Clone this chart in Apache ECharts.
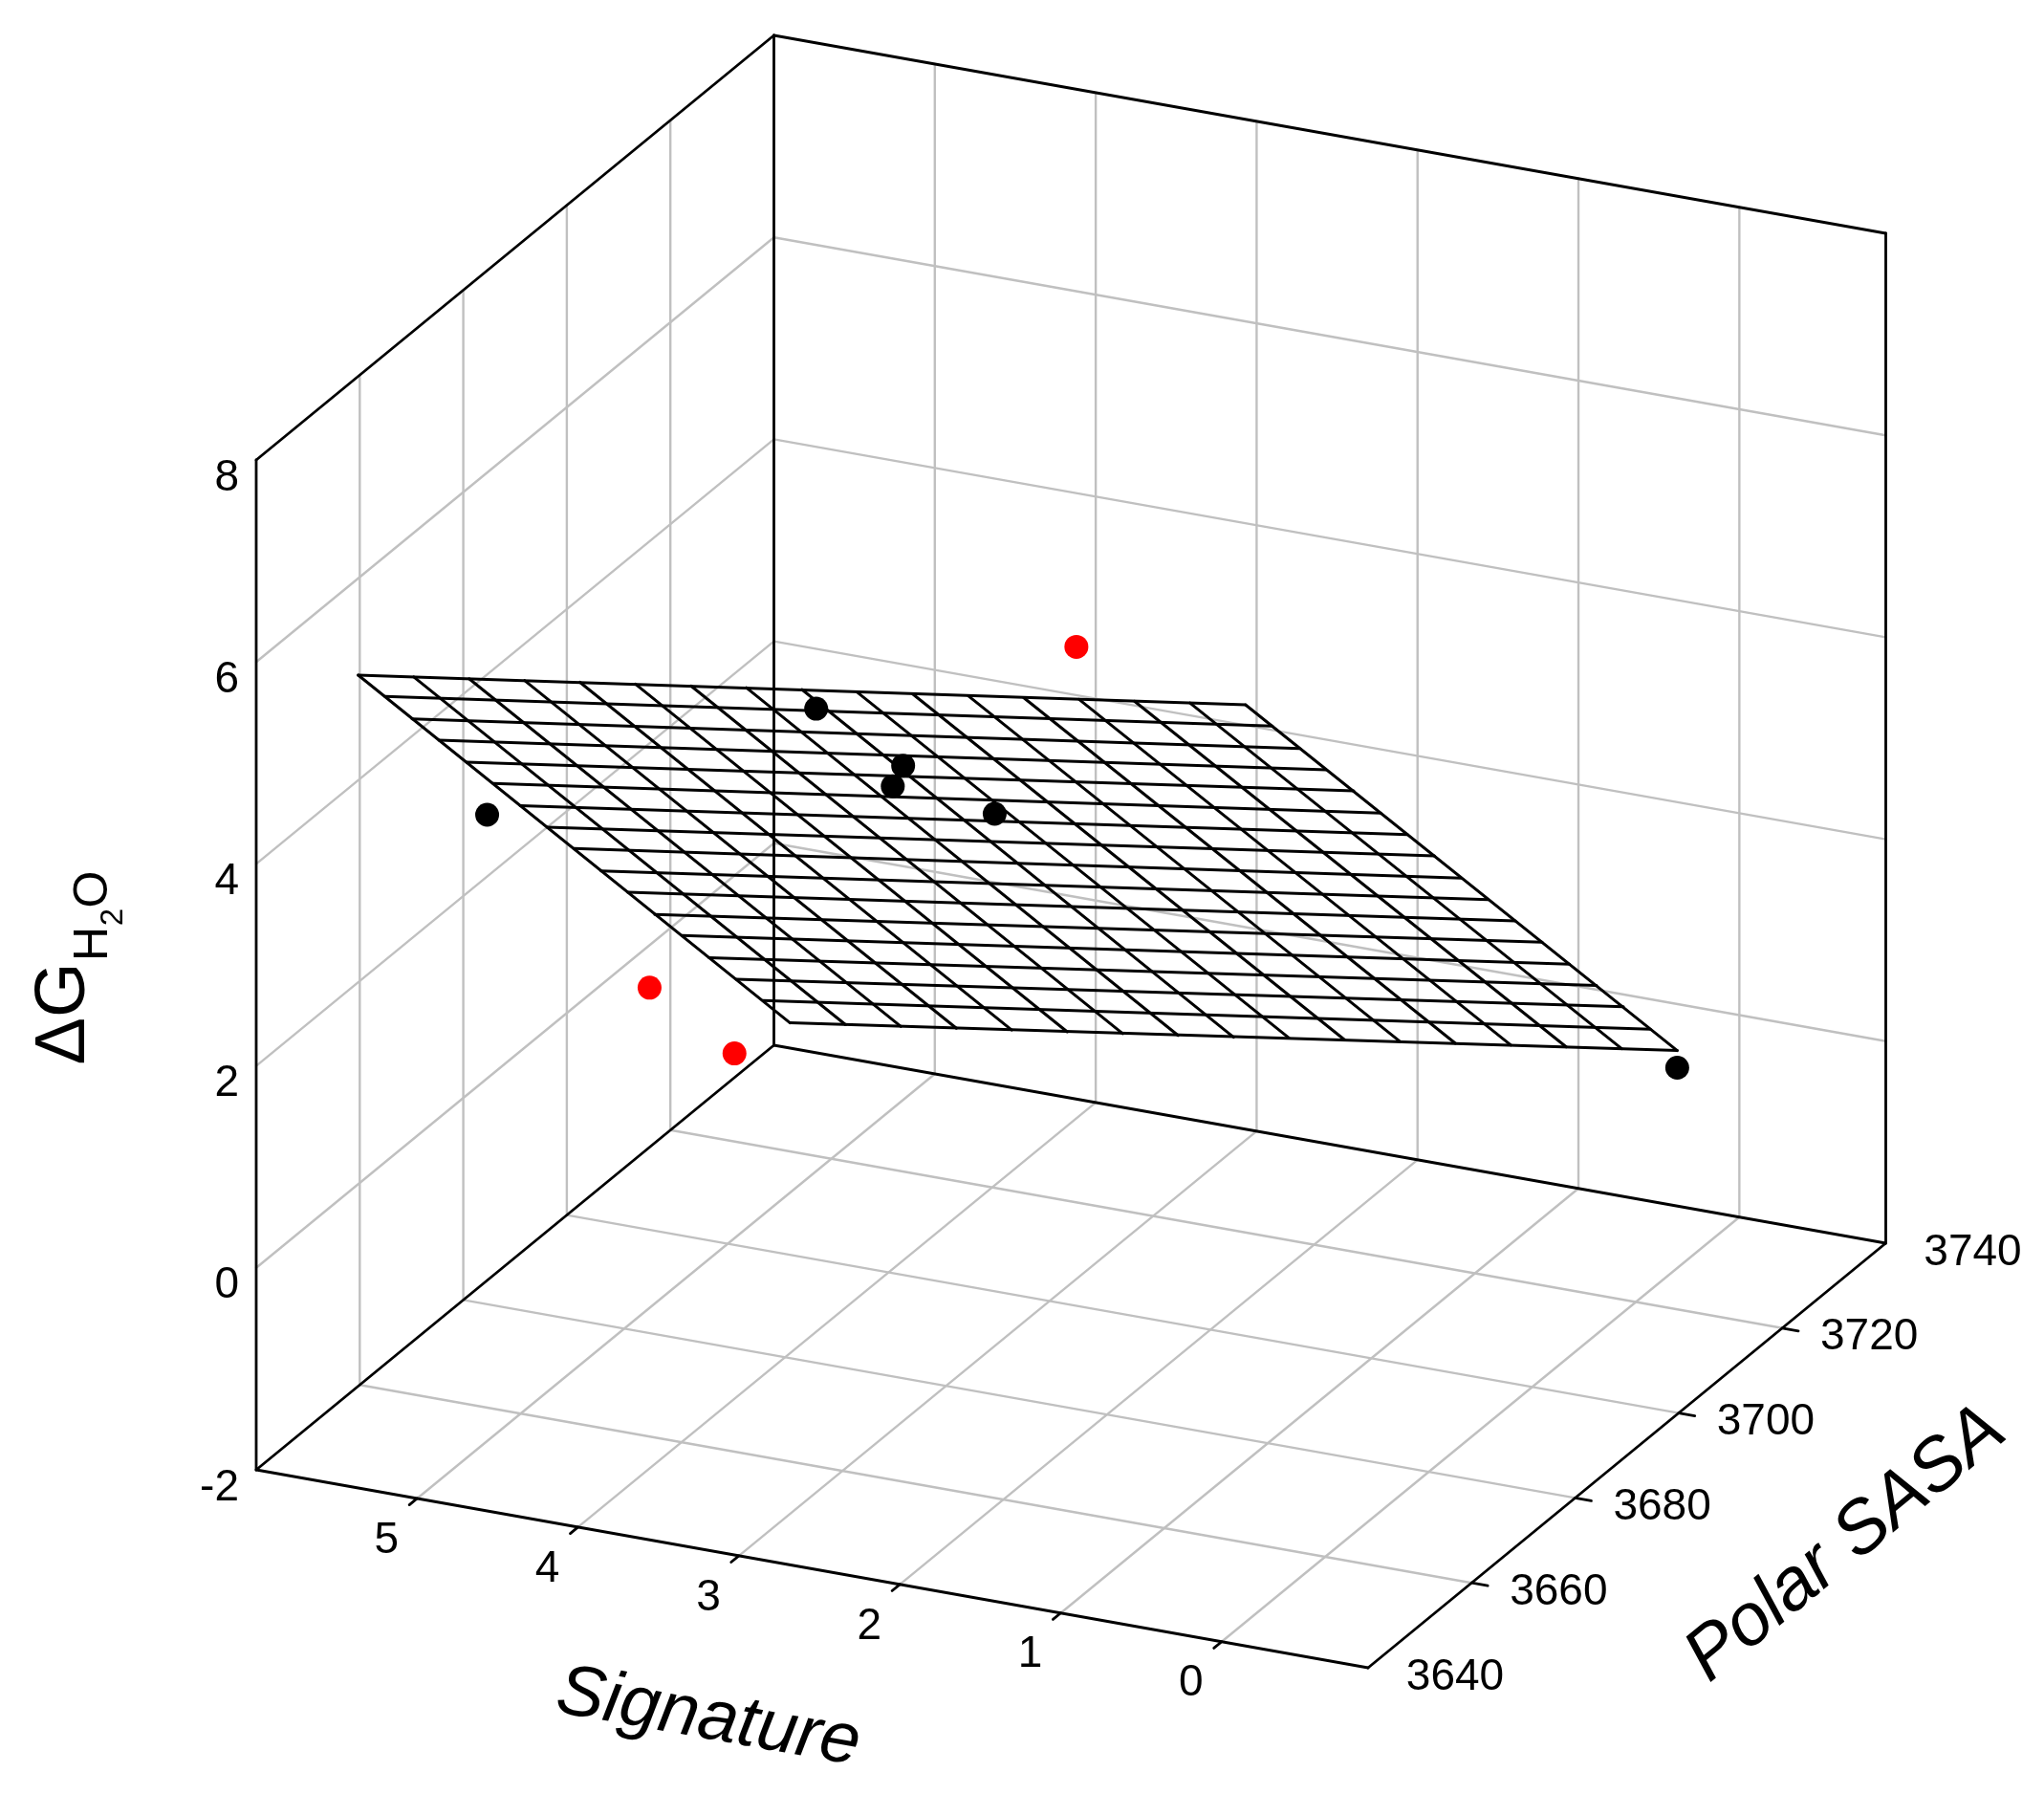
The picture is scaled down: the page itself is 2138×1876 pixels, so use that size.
<!DOCTYPE html>
<html>
<head>
<meta charset="utf-8">
<style>html,body{margin:0;padding:0;background:#fff}#c{width:2138px;height:1876px}</style>
<script src="https://cdn.jsdelivr.net/npm/echarts@6/dist/echarts.min.js"></script>
</head>
<body>
<div id="c"></div>
<script>
// ---- axis ranges and tick labels ----
const sigAxisRange = [6, -0.91];
const sasaAxisRange = [3640, 3740];
const dgAxisRange = [-2, 8];
const sigTicks = [5, 4, 3, 2, 1, 0];
const sasaTicks = [3640, 3660, 3680, 3700, 3720, 3740];
const dgTicks = [-2, 0, 2, 4, 6, 8];

// ---- measured points ----
const blackSignature = [0.386, 5.9, 4, 4, 4, 3];
const blackSasa = [3740, 3681.5, 3686, 3702.8, 3700.8, 3689.4];
const blackDG = [-0.63, 2.77, 4.17, 2.90, 2.78, 3.27];
const redSignature = [5, 5, 2];
const redSasa = [3684.9, 3701.3, 3674.1];
const redDG = [1.17, -0.17, 5.85];

// ---- fitted surface mesh, read along its four borders ----
const meshSignature = [5.9, 5.555, 5.211, 4.866, 4.522, 4.177, 3.832, 3.488, 3.143, 2.799, 2.454, 2.109, 1.765, 1.42, 1.076, 0.731, 0.386];
const meshSasa = [3656.6, 3661.8, 3667.0, 3672.2, 3677.5, 3682.7, 3687.9, 3693.1, 3698.3, 3703.5, 3708.7, 3713.9, 3719.2, 3724.4, 3729.6, 3734.8, 3740.0];
const meshDGLowSasaEdge = [5.20, 5.28, 5.36, 5.44, 5.52, 5.60, 5.68, 5.76, 5.84, 5.91, 5.99, 6.07, 6.15, 6.23, 6.31, 6.39, 6.47];
const meshDGHighSasaEdge = [-1.75, -1.67, -1.59, -1.51, -1.43, -1.35, -1.27, -1.19, -1.11, -1.02, -0.94, -0.86, -0.78, -0.70, -0.62, -0.54, -0.46];
const meshDGHighSigEdge = [5.20, 4.77, 4.33, 3.90, 3.46, 3.03, 2.59, 2.16, 1.73, 1.29, 0.86, 0.42, -0.01, -0.45, -0.88, -1.31, -1.75];
const meshDGLowSigEdge = [6.47, 6.04, 5.60, 5.17, 4.74, 4.30, 3.87, 3.44, 3.00, 2.57, 2.14, 1.71, 1.27, 0.84, 0.41, -0.03, -0.46];

// ---- parallel projection of the 3D box onto the hidden 2D scale ----
const ORIGIN = [268, 1537];
const PER_SIG = [1163 / 6.91, 207 / 6.91];
const PER_SASA = [5.415, -4.44];
const PER_DG = [0, -105.6];
function project(s, q, d) {
  const a = sigAxisRange[0] - s, b = q - sasaAxisRange[0], c = d - dgAxisRange[0];
  return [
    ORIGIN[0] + a * PER_SIG[0] + b * PER_SASA[0] + c * PER_DG[0],
    ORIGIN[1] + a * PER_SIG[1] + b * PER_SASA[1] + c * PER_DG[1]
  ];
}

const [sH, sL] = sigAxisRange, [qL, qH] = sasaAxisRange, [dL, dH] = dgAxisRange;

// gray gridlines on back wall, left wall and floor
const gridSegs = [];
sigTicks.forEach(s => {
  gridSegs.push([s, qH, dL, s, qH, dH]);
  gridSegs.push([s, qL, dL, s, qH, dL]);
});
sasaTicks.slice(1, -1).forEach(q => {
  gridSegs.push([sH, q, dL, sH, q, dH]);
  gridSegs.push([sH, q, dL, sL, q, dL]);
});
dgTicks.slice(1, -1).forEach(d => {
  gridSegs.push([sH, qH, d, sL, qH, d]);
  gridSegs.push([sH, qL, d, sH, qH, d]);
});

// black box frame and axis ticks
const frameSegs = [
  [sH, qL, dL, sH, qL, dH], [sH, qH, dL, sH, qH, dH], [sL, qH, dL, sL, qH, dH],
  [sH, qL, dH, sH, qH, dH], [sH, qH, dH, sL, qH, dH],
  [sH, qL, dL, sL, qL, dL], [sL, qL, dL, sL, qH, dL],
  [sH, qL, dL, sH, qH, dL], [sH, qH, dL, sL, qH, dL]
];
sigTicks.forEach(s => frameSegs.push([s, qL, dL, s, qL - 1.5, dL]));
sasaTicks.slice(1, -1).forEach(q => frameSegs.push([sL, q, dL, sL - 0.1, q, dL]));

// mesh lines
const meshSegs = [];
meshSasa.forEach((q, j) => meshSegs.push([meshSignature[0], q, meshDGHighSigEdge[j], meshSignature[16], q, meshDGLowSigEdge[j]]));
meshSignature.forEach((s, i) => meshSegs.push([s, meshSasa[0], meshDGLowSasaEdge[i], s, meshSasa[16], meshDGHighSasaEdge[i]]));

function segSeries(name, segs, color, width, z) {
  return {
    type: 'custom', name, z, silent: true, clip: false,
    coordinateSystem: 'cartesian2d',
    data: segs,
    encode: { x: [], y: [] },
    renderItem(params, api) {
      const p1 = api.coord(project(api.value(0), api.value(1), api.value(2)));
      const p2 = api.coord(project(api.value(3), api.value(4), api.value(5)));
      return {
        type: 'line',
        shape: { x1: p1[0], y1: p1[1], x2: p2[0], y2: p2[1] },
        style: { stroke: color, lineWidth: width, lineCap: 'round' }
      };
    }
  };
}

function pointSeries(name, S, Q, D, color) {
  return {
    type: 'scatter', name, z: 6, silent: true, symbol: 'circle', symbolSize: 25,
    itemStyle: { color, opacity: 1 },
    data: S.map((s, i) => project(s, Q[i], D[i]))
  };
}

// text items: label, anchor 3D position, pixel offset, size, alignment, rotation, italic
const textItems = [];
const FONT = '"Liberation Sans", Arial, sans-serif';
dgTicks.forEach(d => textItems.push({ text: String(d), at: project(sH, qL, d), dx: -18, dy: 19, size: 46, align: 'right' }));
sigTicks.forEach(s => textItems.push({ text: String(s), at: project(s, qL, dL), dx: -32, dy: 44, size: 46 }));
sasaTicks.forEach(q => textItems.push({ text: String(q), at: project(sL, q, dL), dx: 91, dy: 10, size: 46 }));
textItems.push({ text: 'Signature', at: [741, 1797], size: 75, rot: -10.1, italic: true });
textItems.push({ text: 'Polar SASA', at: [1931, 1615], size: 77, rot: 39.4, italic: true });
textItems.push({ text: '\u0394G', at: [68, 1060], size: 74, rot: 90 });
textItems.push({ text: 'H', at: [98, 987], size: 50, rot: 90 });
textItems.push({ text: '2', at: [119, 959], size: 33, rot: 90 });
textItems.push({ text: 'O', at: [98, 930], size: 50, rot: 90 });

const textSeries = {
  type: 'custom', name: 'labels', z: 7, silent: true, clip: false,
  coordinateSystem: 'cartesian2d',
  data: textItems.map((t, i) => [t.at[0] + (t.dx || 0), t.at[1] + (t.dy || 0), i]),
  renderItem(params, api) {
    const t = textItems[api.value(2)];
    const p = api.coord([api.value(0), api.value(1)]);
    return {
      type: 'text', x: p[0], y: p[1],
      rotation: (t.rot || 0) * Math.PI / 180,
      style: {
        text: t.text, fill: '#000',
        fontFamily: FONT, fontSize: t.size, fontStyle: t.italic ? 'italic' : 'normal',
        font: (t.italic ? 'italic ' : '') + t.size + 'px ' + FONT,
        align: t.align || 'center', verticalAlign: 'middle',
        textAlign: t.align || 'center', textVerticalAlign: 'middle'
      }
    };
  }
};

const chart = echarts.init(document.getElementById('c'), null, { renderer: 'canvas' });
chart.setOption({
  animation: false,
  backgroundColor: '#fff',
  tooltip: { show: false },
  grid: { left: 0, right: 0, top: 0, bottom: 0 },
  xAxis: { type: 'value', min: 0, max: 2138, show: false },
  yAxis: { type: 'value', min: 0, max: 1876, inverse: true, show: false },
  series: [
    segSeries('grid', gridSegs, '#c0c0c0', 2.4, 2),
    segSeries('frame', frameSegs, '#000', 2.8, 3),
    segSeries('mesh', meshSegs, '#000', 3, 5),
    pointSeries('measured', blackSignature, blackSasa, blackDG, '#000'),
    pointSeries('outliers', redSignature, redSasa, redDG, '#f00'),
    textSeries
  ]
});
</script>
</body>
</html>
